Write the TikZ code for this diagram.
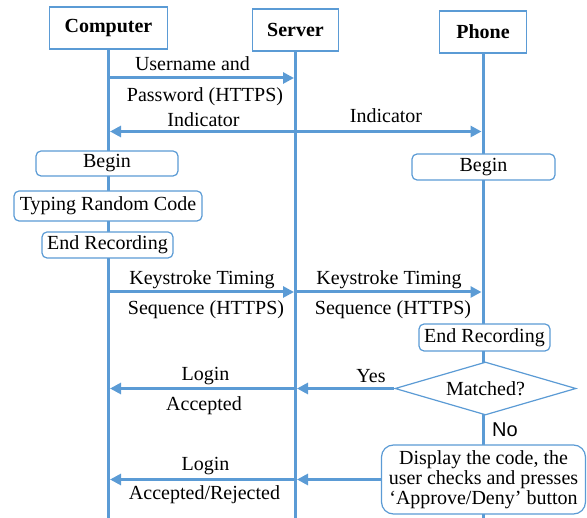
\documentclass[tikz,border=0pt]{standalone}
\usepackage{fontspec}
\setmainfont{Liberation Serif}
\setsansfont{Liberation Sans}
\usetikzlibrary{arrows.meta,shapes.geometric,backgrounds}
\definecolor{lblue}{RGB}{91,155,213}
\begin{document}
\begin{tikzpicture}[x=1pt,y=-1pt,
  font=\fontsize{20}{20}\selectfont,
  hdr/.style={draw=lblue,line width=1.3pt,fill=white,minimum height=42pt,inner sep=0pt,font=\fontsize{20}{20}\selectfont\bfseries},
  life/.style={draw=lblue,line width=3pt},
  msg/.style={draw=lblue,line width=3pt,shorten >=1.5pt,-{Triangle[length=11pt,width=11pt]}},
  act/.style={draw=lblue,line width=1.2pt,fill=white,rounded corners=5pt,inner sep=0pt},
  lbl/.style={anchor=base,inner sep=0pt},
]
\useasboundingbox (0,0) rectangle (587,518);

% headers
\node[hdr,minimum width=118pt] (comp) at (108.5,28) {Computer};
\node[hdr,minimum width=86pt] (serv) at (295.5,30) {Server};
\node[hdr,minimum width=87pt] (phone) at (483,32) {Phone};

% activation boxes
\node[act,minimum width=142pt,minimum height=25pt] (beginC) at (107,163.5) {Begin};
\node[act,minimum width=188pt,minimum height=30pt] (typing) at (108,206) {Typing Random Code};
\node[act,minimum width=131pt,minimum height=26pt] (endC) at (107.5,245) {End Recording};
\node[act,minimum width=143pt,minimum height=26pt] (beginP) at (483.5,167) {Begin};
\node[act,minimum width=131pt,minimum height=27pt] (endP) at (484.5,337.5) {End Recording};
\node[draw=lblue,line width=1.2pt,fill=white,diamond,aspect=3.4,minimum width=181pt,minimum height=53pt,inner sep=0pt] (match) at (485.5,388.5) {Matched?};
\node[act,rounded corners=12pt,minimum width=204pt,minimum height=69pt,align=center] (disp) at (483.5,479.5) {Display the code, the\\user checks and presses\\‘Approve/Deny’ button};

% lifeline ends
\coordinate (cbot) at (comp |- 0,518);
\coordinate (sbot) at (serv |- 0,518);
\coordinate (pbot) at (phone |- 0,518);
\begin{pgfonlayer}{background}
\draw[life] (comp.south) -- (cbot);
\draw[life] (serv.south) -- (sbot);
\draw[life] (phone.south) -- (pbot);
\end{pgfonlayer}

% message points
\coordinate (cU) at (comp |- 0,78);
\coordinate (sU) at (serv |- 0,78);
\coordinate (cI) at (comp |- 0,131.5);
\coordinate (sI) at (serv |- 0,131.5);
\coordinate (pI) at (phone |- 0,131.5);
\coordinate (cK) at (comp |- 0,292);
\coordinate (sK) at (serv |- 0,292);
\coordinate (pK) at (phone |- 0,292);
\coordinate (sY) at (serv |- match.west);
\coordinate (cY) at (comp |- match.west);
\coordinate (sD) at (serv |- disp.west);
\coordinate (cD) at (comp |- disp.west);

\draw[msg] (cU) -- (sU);
\draw[msg] (sI) -- (cI);
\draw[msg] (sI) -- (pI);
\draw[msg] (cK) -- (sK);
\draw[msg] (sK) -- (pK);
\draw[msg] (match.west) -- (sY);
\draw[msg] (sY) -- (cY);
\draw[msg] (disp.west) -- (sD);
\draw[msg] (sD) -- (cD);

% labels
\node[lbl] (t1) at (192.5,71) {Username and};
\node[lbl] (t2) at (205,102) {Password (HTTPS)};
\node[lbl] (t3) at (203.5,127) {Indicator};
\node[lbl] (t4) at (386,123) {Indicator};
\node[lbl] (t5) at (202,285) {Keystroke Timing};
\node[lbl] (t6) at (206,315) {Sequence (HTTPS)};
\node[lbl] (t7) at (389,285) {Keystroke Timing};
\node[lbl] (t8) at (393,315) {Sequence (HTTPS)};
\node[lbl] (t9) at (371,383) {Yes};
\node[lbl] (t10) at (205.5,381) {Login};
\node[lbl] (t11) at (204,411) {Accepted};
\node[lbl,font=\fontsize{20}{20}\selectfont\sffamily] (t12) at (505,437) {No};
\node[lbl] (t13) at (205.5,471) {Login};
\node[lbl] (t14) at (204.5,500) {Accepted/Rejected};
\end{tikzpicture}
\end{document}
